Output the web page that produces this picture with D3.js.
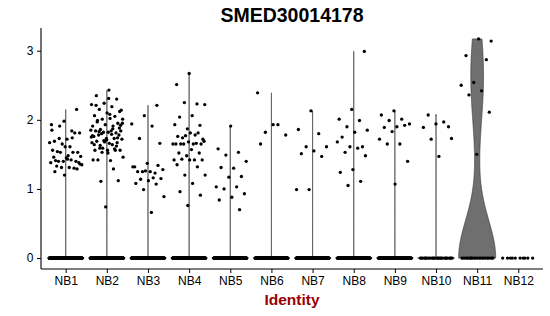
<!DOCTYPE html>
<html>
<head>
<meta charset="utf-8">
<script src="https://cdn.jsdelivr.net/npm/d3@7"></script>
<style>
  body { margin: 0; background: #fff; }
  svg { display: block; font-family: "Liberation Sans", Arial, Helvetica, sans-serif; }
</style>
</head>
<body>
<svg id="chart" width="550" height="316"></svg>
<script>
// ---- data ----
const title = "SMED30014178";
const xLabel = "Identity";
const categories = ["NB1","NB2","NB3","NB4","NB5","NB6","NB7","NB8","NB9","NB10","NB11","NB12"];
const yTicks = [0, 1, 2, 3];
// number of cells with zero expression per cluster
const zeroCounts = [400, 420, 300, 320, 300, 200, 200, 200, 160, 28, 22, 10];
// non-zero expression values per cluster
const nb1 = [2.15,1.98,1.93,1.84,1.73,1.81,1.72,1.69,1.81,1.65,1.67,1.61,1.54,1.53,1.61,1.56,1.53,1.53,
             1.47,1.48,1.41,1.40,1.40,1.38,1.42,1.40,1.38,1.45,1.46,1.30,1.31,1.35,1.31,1.33,1.29,1.20,
             1.85,1.74,1.91,1.36,1.43,1.25];
const nb2 = [2.43,2.35,2.30,2.24,2.22,2.19,2.15,2.12,2.10,2.06,2.05,2.01,2.01,2.02,1.99,1.95,1.93,1.91,
             1.91,1.86,1.84,1.82,1.84,1.81,1.82,1.85,1.84,1.78,1.78,1.73,1.76,1.73,1.80,1.72,1.66,1.69,
             1.67,1.68,1.67,1.64,1.59,1.56,1.56,1.56,1.56,1.59,1.46,1.41,1.42,1.12,0.74,1.42,1.29,1.11,
             2.14,2.31,2.21,1.62,1.70,1.75,1.79,1.83,1.88,1.71,1.64,1.58,1.53,1.95,2.08,1.97,1.74,1.69,
             1.77,1.87,1.63,1.92,1.52];
const nb3 = [2.21,2.06,1.94,1.91,1.73,1.66,1.37,1.32,1.23,1.25,1.28,1.25,1.25,1.34,1.26,1.32,1.16,1.14,
             1.15,1.12,1.08,1.07,0.99,0.89,0.66];
const nb4 = [2.67,2.51,2.23,2.25,2.22,2.06,2.04,1.92,1.87,1.93,1.78,1.74,1.72,1.81,1.76,1.81,1.77,1.65,
             1.65,1.65,1.65,1.68,1.65,1.66,1.65,1.69,1.57,1.52,1.52,1.48,1.42,1.42,1.43,1.42,1.42,1.35,
             1.32,1.20,1.20,1.08,0.96,0.91,0.76];
const nb5 = [1.91,1.58,1.53,1.49,1.40,1.30,1.31,1.18,1.17,1.03,1.03,1.00,0.93,0.88,0.84,0.70];
const nb6 = [2.39,1.93,1.82,1.78,1.93,1.65];
const nb7 = [2.13,1.86,1.80,1.61,1.61,1.55,1.51,1.47,0.99,0.99];
const nb8 = [2.99,2.15,2.01,1.99,1.90,1.85,1.82,1.75,1.61,1.61,1.68,1.59,1.53,1.48,1.28,1.24,1.11,1.05];
const nb9 = [2.13,2.07,2.01,1.99,1.94,1.90,1.89,1.92,1.83,1.72,1.65,1.65,1.40,1.07];
const nb10 = [2.07,1.90,1.94,1.89,1.97,1.72,1.73,1.47];
const nb11 = [3.14,3.17,2.93,2.87,2.54,2.50,2.42,2.36,2.11,1.50];
const nb12 = [];
const exprValues = [nb1,nb2,nb3,nb4,nb5,nb6,nb7,nb8,nb9,nb10,nb11,nb12];

// ---- layout ----
const plot = { left: 41, right: 543, top: 28, bottom: 269 };
const svg = d3.select("#chart");

const groups = categories.map((c, i) => {
  const vals = d3.range(zeroCounts[i]).map(() => 0).concat(exprValues[i]);
  return { cat: c, vals };
});

const allMax = d3.max(groups, g => d3.max(g.vals));
const allMin = 0;
const pad = (allMax - allMin) * 0.05;

const x = d3.scalePoint().domain(categories).range([plot.left, plot.right]).padding(0.6);
const y = d3.scaleLinear().domain([allMin - pad, allMax + pad]).range([plot.bottom, plot.top]);
const step = x.step();

// ---- violins (gaussian KDE, bw.nrd0, trimmed, scaled to equal width) ----
function bwNrd0(v) {
  const s = [...v].sort(d3.ascending);
  const sd = d3.deviation(s);
  const iqr = d3.quantileSorted(s, 0.75) - d3.quantileSorted(s, 0.25);
  let lo = Math.min(sd, iqr / 1.34);
  // Seurat adds ~1e-5 noise; with a zero IQR the bandwidth collapses to that noise scale
  if (iqr === 0) lo = 1e-5;
  if (!lo) lo = sd || Math.abs(s[0]) || 1;
  return 0.9 * lo * Math.pow(s.length, -0.2);
}
function kde(v, bw, lo, hi, n) {
  const pts = d3.range(n).map(k => lo + (hi - lo) * k / (n - 1));
  const c = 1 / (Math.sqrt(2 * Math.PI) * bw * v.length);
  return pts.map(p => {
    let s = 0;
    for (const xi of v) { const u = (p - xi) / bw; s += Math.exp(-0.5 * u * u); }
    return [p, s * c];
  });
}

const violinG = svg.append("g");
groups.forEach(g => {
  const lo = d3.min(g.vals), hi = d3.max(g.vals);
  if (hi - lo <= 0) return;
  const bw = bwNrd0(g.vals);
  const dens = kde(g.vals, bw, lo, hi, 512);
  const dmax = d3.max(dens, d => d[1]);
  const half = 0.45 * step;
  const cx = x(g.cat);
  const right = dens.map(d => [cx + half * d[1] / dmax, y(d[0])]);
  const left = dens.map(d => [cx - half * d[1] / dmax, y(d[0])]).reverse();
  violinG.append("path")
    .attr("d", d3.line()(right.concat(left)) + "Z")
    .attr("fill", "#6f6f6f")
    .attr("stroke", "#333")
    .attr("stroke-width", 0.65)
    .attr("stroke-linejoin", "round");
});

// ---- jittered points (deterministic jitter, width 0.4 category units) ----
const ptG = svg.append("g");
groups.forEach((g, gi) => {
  const cx = x(g.cat);
  g.vals.forEach((v, i) => {
    const f = ((i + 1) * 0.6180339887 + gi * 0.371) % 1;
    const off = (f - 0.5) * 0.8 * step;
    ptG.append("circle")
      .attr("cx", cx + off)
      .attr("cy", y(v))
      .attr("r", 1.65)
      .attr("fill", "#000");
  });
});

// ---- axes ----
const xAxis = svg.append("g")
  .attr("transform", `translate(0,${plot.bottom})`)
  .call(d3.axisBottom(x).tickSize(4).tickPadding(3.5).tickSizeOuter(0));
const yAxis = svg.append("g")
  .attr("transform", `translate(${plot.left},0)`)
  .call(d3.axisLeft(y).tickValues(yTicks).tickFormat(d3.format("d")).tickSize(4).tickPadding(3.5).tickSizeOuter(0));

[xAxis, yAxis].forEach(a => {
  a.select(".domain").remove();
  a.selectAll(".tick line").attr("stroke", "#000").attr("stroke-width", 1);
  a.selectAll(".tick text").attr("fill", "#000").style("font-size", "12px")
    .style("font-family", '"Liberation Sans", Arial, sans-serif');
});
// axis lines spanning the full panel
svg.append("line").attr("x1", plot.left).attr("x2", plot.right)
  .attr("y1", plot.bottom).attr("y2", plot.bottom).attr("stroke", "#000").attr("stroke-width", 1.1);
svg.append("line").attr("x1", plot.left).attr("x2", plot.left)
  .attr("y1", plot.top).attr("y2", plot.bottom).attr("stroke", "#000").attr("stroke-width", 1.1);

// ---- titles ----
const cxPlot = (plot.left + plot.right) / 2;
svg.append("text").attr("x", cxPlot).attr("y", 21.7)
  .attr("text-anchor", "middle").style("font-size", "19.5px").style("font-weight", "bold")
  .attr("fill", "#000").text(title);
svg.append("text").attr("x", cxPlot).attr("y", 305)
  .attr("text-anchor", "middle").style("font-size", "15.5px").style("font-weight", "bold")
  .attr("fill", "#9b0000").text(xLabel);
</script>
</body>
</html>
